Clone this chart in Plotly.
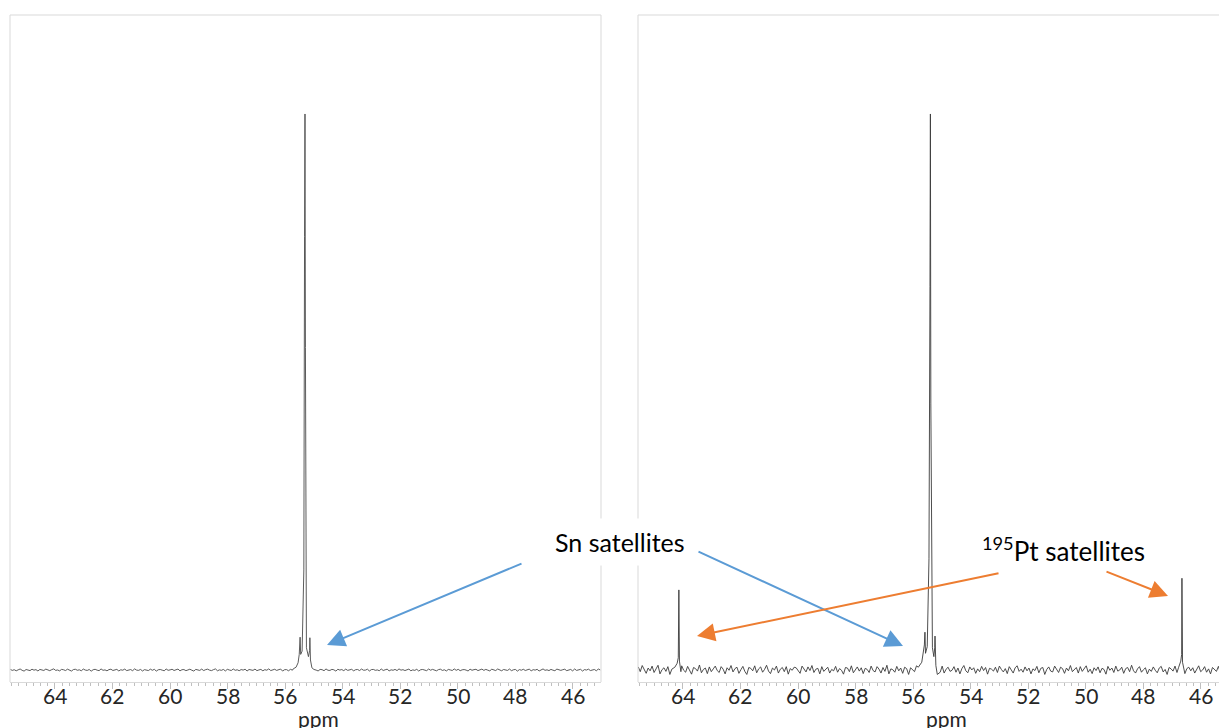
import numpy as np
import plotly.graph_objects as go

W, H = 1219, 728

# ---------------- data ----------------
# baseline noise, in hundredths of intensity units (main peak = 100)
left_noise_c = [
    12, -8, 5, -15, 3, 18, -6, -20, 9, 2, -11, 14, -3, 7, -18, 10, 1, -9, 16, -4,
    -12, 6, 20, -7, 0, -16, 11, 4, -10, 15, -2, -19, 8, 13, -5, 3, -14, 17, -1, -8,
    9, -21, 5, 12, -3, -12, 19, -6, 2, -15, 7, 14, -9, 0, 11, -17, 4, -4, 16, -11,
    3, 8, -13, 20, -2, -7, 10, -18, 6, 1, -10, 15, -5, 12, -20, 4, 9, -3, -14, 18,
    -6, 2, 13, -9, -1, 17, -16, 5, 8, -12, 0, 14, -4, -19, 11, 3, -8, 16, -10, 6,
    15, -3, -11, 7, 19, -14, 2, -6, 10, -17, 12, 0, -9, 18, -5, 4, -13, 8, -2, 14,
    -18, 9, 3, -7, 16, -12, 1, 11, -15, 6, -4, 20, -10, 2, 13, -8, -1, 17, -19, 5,
    7, -14, 12, -3, 0, 18, -11, 4, -6, 15, -16, 9, 2, -9, 14, -2, -17, 10, 6, -13,
    19, -5, -8, 11, 3, -20, 13, -1, 8, -12, 16, -7, 0, 12, -15, 5, 9, -10, 17, -4,
    -2, 14, -18, 7, 10, -6, 1, -13, 18, -9, 4, 15, -16, 3, -5, 11, -11, 20, -3, 6,
    -10, 8, 16, -14, 2, -7, 13, -19, 5, 9, -1, -12, 17, -4, 11, 0, -15, 7, 14, -8,
    4, -17, 10, 1, -9, 19, -6, 12, -13, 3, 8, -2, -18, 15, -5, 6, 13, -11, 0, 16,
    -7, 11, -3, -16, 14, 5, -10, 18, -1, -14, 9, 2, -8, 17, -12, 4, 10, -20, 7, -4,
    13, -9, 1, 15, -15, 6, -2, 12, -18, 8, 19, -6, 3, -11, 11, -3, -13, 16, 0, -7,
    5, 14, -12, -4, 10, -16, 18, -8, 2, 12, -19, 7, -1, 15, -10, 4, 9, -14, 17, 1,
]
right_noise_c = [
    55, -30, 80, 10, -60, 35, -15, 70, -45, 20, 85, -70, 5, 40, -25, 60, -80, 15, 50, -10,
    30, -55, 75, -5, -40, 65, 0, -75, 45, 25, -20, 90, -50, 10, 35, -65, 55, -30, 20, 70,
    -10, -45, 60, 15, -70, 40, -5, 80, -35, 25, 50, -60, 5, 65, -25, -80, 45, 30, -15, 75,
    -50, 20, 55, -40, 10, 85, -20, -65, 35, 0, 70, -55, 15, 45, -30, 60, -75, 25, -5, 50,
    40, -20, -60, 70, 5, -35, 55, -10, 80, -45, 15, 30, -70, 60, -25, 20, 50, -55, 10, -15,
    65, -40, 25, -5, -75, 45, 35, -30, 75, -50, 0, 55, -20, 40, -65, 30, 10, -45, 70, -10,
    -35, 60, 15, -55, 45, -25, 85, -70, 20, 5, -40, 65, -15, 35, -60, 50, 25, -80, 40, 10,
    -30, 75, -50, 20, -10, 55, -65, 30, 60, -20, -45, 45, 5, -35, 70, -55, 15, 50, -25, -5,
    60, -40, 35, -70, 25, 80, -15, -50, 55, 0, 40, -60, 20, -30, 65, -10, 45, -75, 30, 15,
    -20, 50, -45, 70, 10, -35, 25, -65, 60, -5, -55, 40, 75, -25, 15, -40, 55, -15, 35, -70,
    20, -10, 65, -50, 30, 45, -80, 10, 55, -20, -35, 70, 0, -45, 50, 25, -60, 35, -15, 80,
    -30, 5, 45, -55, 60, -25, 20, 75, -40, 15, -65, 40, -10, 55, -50, 30, 10, -75, 65, -5,
    35, -45, 70, -20, 0, 50, -60, 25, 45, -30, 85, -15, -55, 20, 60, -40, 5, 40, -70, 15,
    -25, 55, -5, -50, 35, 65, -35, 10, -80, 45, 20, -20, 70, -45, 30, -10, 55, -65, 25, 50,
    -15, 40, -55, 15, 75, -30, 0, 60, -40, 20, -70, 45, 10, -25, 65, -50, 35, -5, 50, -35,
]

# peak clusters (ppm, intensity)
left_peak_ppm = [55.72, 55.62, 55.55, 55.51, 55.48, 55.46, 55.41, 55.35, 55.325, 55.31, 55.295, 55.26, 55.19, 55.15, 55.14, 55.12, 55.07, 55.00]
left_peak_int = [0.2, 0.5, 1.3, 2.8, 5.9, 2.8, 3.4, 18.0, 78.0, 100.0, 58.0, 4.0, 2.4, 3.5, 5.8, 1.8, 0.4, 0.1]

right_peak_ppm = [55.82, 55.70, 55.64, 55.61, 55.59, 55.57, 55.51, 55.45, 55.415, 55.40, 55.385, 55.33, 55.28, 55.25, 55.24, 55.21, 55.16, 55.06]
right_peak_int = [0.5, 1.4, 3.2, 4.5, 6.8, 3.0, 4.2, 20.0, 69.0, 100.0, 48.0, 4.0, 2.4, 4.0, 6.1, 0.8, -0.8, -0.4]

pt_peak_ppm = [64.28, 64.20, 64.16, 64.14, 64.12, 64.07, 46.78, 46.70, 46.67, 46.66, 46.64, 46.58]
pt_peak_int = [0.5, 1.2, 2.2, 14.4, 1.6, -0.3, 0.4, 1.6, 2.8, 16.5, 1.4, -0.2]

tick_vals = [64, 62, 60, 58, 56, 54, 52, 50, 48, 46]

# ---------------- assemble spectra ----------------
def build(noise_c, peak_ppm, peak_int, windows):
    noise = np.array(noise_c) / 100.0
    grid = np.linspace(65.55, 45.05, len(noise))
    keep = np.ones(len(grid), bool)
    for a, b in windows:
        keep &= ~((grid >= a) & (grid <= b))
    x = np.concatenate([grid[keep], np.array(peak_ppm)])
    y = np.concatenate([noise[keep], np.array(peak_int)])
    order = np.argsort(-x)
    return x[order], y[order]

lx, ly = build(left_noise_c, left_peak_ppm, left_peak_int, [(54.98, 55.74)])
rx, ry = build(right_noise_c, right_peak_ppm + pt_peak_ppm, right_peak_int + pt_peak_int,
               [(55.04, 55.84), (64.06, 64.30), (46.56, 46.80)])

# ---------------- figure ----------------
PX_PER_PPM = 28.78
X_LEFT = 65.56
x_dom1 = [10 / W, 601 / W]
x_dom2 = [638 / W, 1.0]
y_dom = [1 - 682 / H, 1 - 15 / H]
frame_col = '#d9d9d9'
tick_col = '#bfbfbf'
font_fam = 'Lato, Open Sans, sans-serif'
txt_col = '#262626'

fig = go.Figure()
fig.add_trace(go.Scatter(x=lx, y=ly, xaxis='x', yaxis='y', mode='lines',
                         line=dict(color='#4a4a4a', width=0.9), hoverinfo='skip'))
fig.add_trace(go.Scatter(x=rx, y=ry, xaxis='x2', yaxis='y2', mode='lines',
                         line=dict(color='#3a3a3a', width=0.9), hoverinfo='skip'))

axis_common = dict(
    showline=True, linecolor=frame_col, linewidth=1, ticks='outside', ticklen=6,
    tickcolor=tick_col, tickwidth=1, tickvals=tick_vals, showticklabels=False,
    showgrid=False, zeroline=False,
    minor=dict(dtick=0.25, tick0=0, ticks='outside', ticklen=3, tickcolor=tick_col, showgrid=False),
)
fig.update_layout(
    width=W, height=H, margin=dict(l=0, r=0, t=0, b=0, pad=0),
    paper_bgcolor='white', plot_bgcolor='white', showlegend=False,
    xaxis=dict(domain=x_dom1, anchor='y', range=[X_LEFT, X_LEFT - 591 / PX_PER_PPM], **axis_common),
    xaxis2=dict(domain=x_dom2, anchor='y2', range=[X_LEFT, X_LEFT - 581 / PX_PER_PPM], **axis_common),
    yaxis=dict(domain=y_dom, anchor='x', range=[-2.16, 117.8], visible=False),
    yaxis2=dict(domain=y_dom, anchor='x2', range=[-2.16, 117.8], visible=False),
)

def hline(x0, x1, y):
    return dict(type='line', xref='paper', yref='paper', x0=x0, x1=x1, y0=y, y1=y,
                line=dict(color=frame_col, width=1))

def vline(x, y0, y1):
    return dict(type='line', xref='paper', yref='paper', x0=x, x1=x, y0=y0, y1=y1,
                line=dict(color=frame_col, width=1))

fig.update_layout(shapes=[
    vline(x_dom1[0], y_dom[0], y_dom[1]), vline(x_dom1[1], y_dom[0], y_dom[1]),
    hline(x_dom1[0], x_dom1[1], y_dom[1]),
    vline(x_dom2[0], y_dom[0], y_dom[1]), hline(x_dom2[0], 1.0, y_dom[1]),
])

ann = []
# tick labels, placed on each axis' own scale
for xr in ('x', 'x2'):
    for v in tick_vals:
        ann.append(dict(x=v, xref=xr, y=1 - 695 / H, yref='paper', text=str(v), showarrow=False,
                        font=dict(family=font_fam, size=21, color=txt_col),
                        xanchor='center', yanchor='middle'))
# axis titles
for cx in (318, 946):
    ann.append(dict(x=cx / W, y=1 - 718 / H, xref='paper', yref='paper', text='ppm', showarrow=False,
                    font=dict(family=font_fam, size=21, color=txt_col), xanchor='center', yanchor='middle'))
# labels
ann.append(dict(x=620 / W, y=1 - 542 / H, xref='paper', yref='paper', text='Sn satellites', showarrow=False,
                font=dict(family=font_fam, size=25, color='black'), bgcolor='white', borderpad=8,
                xanchor='center', yanchor='middle'))
ann.append(dict(x=1063 / W, y=1 - 549 / H, xref='paper', yref='paper', text='<sup>195</sup>Pt satellites',
                showarrow=False, font=dict(family=font_fam, size=26, color='black'), bgcolor='white',
                xanchor='center', yanchor='middle'))

def arrow(tail, tip, color):
    return dict(x=tip[0] / W, y=1 - tip[1] / H, xref='paper', yref='paper',
                ax=tail[0] - tip[0], ay=tail[1] - tip[1], axref='pixel', ayref='pixel',
                text='', showarrow=True, arrowhead=2, arrowsize=1.8, arrowwidth=2, arrowcolor=color)

blue = '#5b9bd5'
orange = '#ed7d31'
ann += [
    arrow((523, 563), (327, 645), blue),
    arrow((697, 551), (903, 646), blue),
    arrow((1000, 573), (697, 636), orange),
    arrow((1105, 571), (1168, 596), orange),
]
fig.update_layout(annotations=ann)

fig.write_html('out.html')
